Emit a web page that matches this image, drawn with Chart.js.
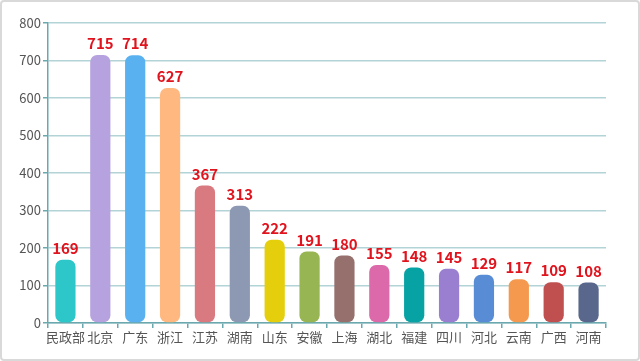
<!DOCTYPE html>
<html><head><meta charset="utf-8">
<script src="https://cdn.jsdelivr.net/npm/chart.js@4"></script>
<style>html,body{margin:0;padding:0;background:#fff;}#wrap{position:relative;width:640px;height:361px;}</style>
</head><body><div id="wrap"><canvas id="c" width="640" height="361"></canvas></div>
<script>
const categories = ['民政部','北京','广东','浙江','江苏','湖南','山东','安徽','上海','湖北','福建','四川','河北','云南','广西','河南'];
const values = [169,715,714,627,367,313,222,191,180,155,148,145,129,117,109,108];
const barColors = ['#2ec7c9','#b6a2de','#5ab1ef','#ffb980','#d87a80','#8d98b3','#e5cf0d','#97b552','#95706d','#dc69aa','#07a2a4','#9a7fd1','#588dd5','#f5994e','#c05050','#59678c'];
const yTicks = [0,100,200,300,400,500,600,700,800];

const FONT = "'Noto Sans CJK SC','Noto Sans',sans-serif";

const frame = {
  id:'frame',
  beforeDraw(chart){
    const ctx = chart.ctx;
    ctx.save();
    ctx.fillStyle='#fff';
    ctx.fillRect(0,0,chart.width,chart.height);
    ctx.strokeStyle='#d9d9d9';
    ctx.lineWidth=2;
    ctx.beginPath();
    ctx.roundRect(1,1,chart.width-2,chart.height-2,3);
    ctx.stroke();
    ctx.restore();
  }
};
const labels = {
  id:'labels',
  afterDatasetsDraw(chart){
    const ctx = chart.ctx;
    const meta = chart.getDatasetMeta(0);
    ctx.save();
    ctx.fillStyle='#e0141e';
    ctx.font = "bold 15px "+FONT;
    ctx.textAlign='center';
    ctx.textBaseline='bottom';
    meta.data.forEach((bar,i)=>{
      ctx.fillText(String(values[i]), bar.x, bar.y-4);
    });
    ctx.restore();
  }
};

new Chart(document.getElementById('c'),{
  type:'bar',
  data:{labels:categories,datasets:[{data:values,backgroundColor:barColors,borderRadius:7,borderSkipped:false,barPercentage:0.58,categoryPercentage:1}]},
  options:{
    responsive:false,animation:false,
    layout:{padding:{left:0,right:34,top:23,bottom:0}},
    plugins:{legend:{display:false},tooltip:{enabled:false}},
    scales:{
      x:{
        offset:true,
        grid:{display:true,drawOnChartArea:false,drawTicks:true,tickLength:5,color:'#6aa8ad',lineWidth:1.5,offset:true},
        border:{display:true,color:'#6aa8ad',width:1.5},
        ticks:{color:'#555',font:{family:FONT,size:13},padding:1,maxRotation:0,autoSkip:false},
        afterFit(s){s.height=38;}
      },
      y:{
        min:0,max:800,
        afterBuildTicks(s){s.ticks=yTicks.map(v=>({value:v}));},
        grid:{color:'#b3d4d7',lineWidth:1.5,tickLength:5,tickColor:'#6aa8ad'},
        border:{display:true,color:'#6aa8ad',width:1.5},
        ticks:{color:'#555',font:{family:FONT,size:13},padding:2},
        afterFit(s){s.width=48;}
      }
    }
  },
  plugins:[frame,labels]
});
</script></body></html>
